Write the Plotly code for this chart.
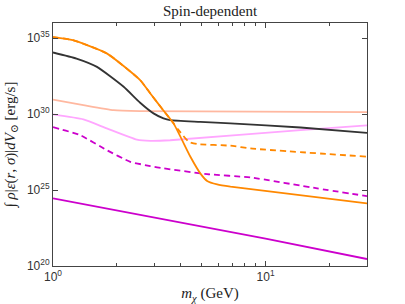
import numpy as np
import plotly.graph_objects as go

# masses (GeV) and log10 of luminosity integral (erg/s)
orange_m = [1.0, 1.24, 1.79, 2.57, 2.87, 3.30, 3.69, 4.43, 4.93, 5.31, 5.92, 6.84, 30.0]
orange_solid = [35.07, 34.87, 34.0, 32.24, 31.36, 30.26, 29.39, 27.19, 26.1, 25.6, 25.37, 25.22, 24.12]
orange_dash_m = [1.0, 1.24, 1.79, 2.57, 2.87, 3.30, 3.69, 3.90, 4.35, 4.76, 6.84, 8.49, 30.0]
orange_dash = [35.07, 34.87, 34.0, 32.24, 31.36, 30.26, 29.39, 28.95, 28.18, 28.03, 27.92, 27.74, 27.2]
black_m = [1.0, 1.29, 1.61, 2.15, 2.57, 2.97, 3.31, 3.56, 4.93, 6.84, 14.6, 30.0]
black_v = [34.06, 33.66, 33.11, 31.8, 30.75, 30.05, 29.72, 29.6, 29.49, 29.39, 29.12, 28.77]
peach_m = [1.0, 1.39, 1.93, 2.57, 30.0]
peach_v = [30.95, 30.59, 30.26, 30.2, 30.13]
pink_m = [1.0, 1.39, 1.79, 2.48, 2.87, 3.56, 14.6, 30.0]
pink_v = [29.98, 29.65, 29.06, 28.32, 28.24, 28.28, 28.95, 29.26]
mag_dash_m = [1.0, 1.34, 1.79, 2.31, 2.87, 3.31, 5.31, 8.49, 17.5, 30.0]
mag_dash = [29.14, 28.62, 27.63, 26.86, 26.58, 26.43, 26.05, 25.83, 25.11, 24.6]
mag_m = [1.0, 10.0, 30.0]
mag_v = [24.45, 21.8, 20.46]

x_tickvals = [1, 10]
x_ticktext = ["10<sup>0</sup>", "10<sup>1</sup>"]
y_tickvals = [1e20, 1e25, 1e30, 1e35]
y_ticktext = ["10<sup>20</sup>", "10<sup>25</sup>", "10<sup>30</sup>", "10<sup>35</sup>"]

def p(v):
    return [10.0 ** e for e in v]

fig = go.Figure()
series = [
    (peach_m, peach_v, "#FFB8A0", "solid"),
    (pink_m, pink_v, "#FFA6FF", "solid"),
    (mag_dash_m, mag_dash, "#CC00CC", "6px,4px"),
    (mag_m, mag_v, "#CC00CC", "solid"),
    (black_m, black_v, "#333333", "solid"),
    (orange_dash_m, orange_dash, "#FF8800", "6px,4px"),
    (orange_m, orange_solid, "#FF8800", "solid"),
]
for m, v, c, d in series:
    fig.add_trace(go.Scatter(x=m, y=p(v), mode="lines",
                             line=dict(color=c, width=1.8, dash=d, shape="spline", smoothing=0.5),
                             showlegend=False, hoverinfo="skip"))

axis_common = dict(showgrid=False, zeroline=False, showline=True, linecolor="#444444",
                   linewidth=1, mirror="allticks", ticks="inside", tickcolor="#444444",
                   automargin=False,
                   tickfont=dict(family="Liberation Sans, Arial", size=12, color="#333333"))

fig.update_xaxes(type="log", range=[0, np.log10(30)], tickvals=x_tickvals, ticktext=x_ticktext,
                 ticklen=5,
                 minor=dict(ticks="inside", ticklen=3, tickcolor="#444444",
                            tickvals=[2, 3, 4, 5, 6, 7, 8, 9, 20, 30]),
                 title=dict(text="<i>m</i><sub><i>χ</i></sub> (GeV)", standoff=4,
                            font=dict(family="Liberation Serif, DejaVu Serif", size=15, color="#222222")),
                 **axis_common)
fig.update_yaxes(type="log", range=[20, 36], tickvals=y_tickvals, ticktext=y_ticktext,
                 ticklen=5,
                 title=dict(text="∫ <i>ρ</i>|<i>ε</i>(<i>r</i>, <i>σ</i>)|<i>dV</i><sub>⊙</sub> [erg/s]",
                            standoff=7,
                            font=dict(family="Liberation Serif, DejaVu Serif", size=15, color="#222222")),
                 **axis_common)

fig.update_layout(
    width=405, height=304,
    margin=dict(l=53, r=38, t=23, b=38),
    paper_bgcolor="white", plot_bgcolor="white",
    title=dict(text="Spin-dependent", x=0.5185, xanchor="center", y=0.965, yanchor="middle",
               font=dict(family="Liberation Serif, DejaVu Serif", size=15, color="#222222")),
)

fig.write_html("out.html", config={"displayModeBar": False},
               post_script="document.body.style.margin='0';")
